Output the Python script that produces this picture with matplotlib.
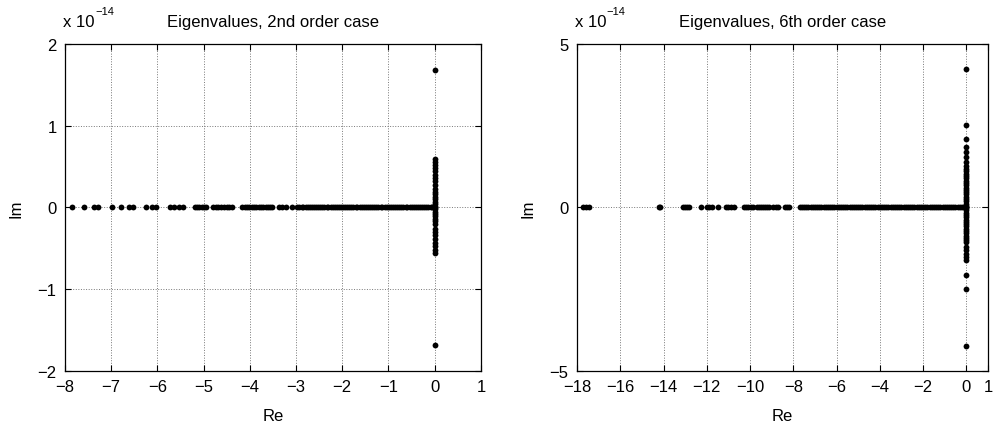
import matplotlib
matplotlib.use("Agg")
import matplotlib.pyplot as plt

plt.rcParams['font.family'] = ['Liberation Sans', 'DejaVu Sans']

# 2nd order case: eigenvalues on the real axis (Im = 0)
re_axis_2 = [-7.84, -7.59, -7.37, -7.29, -6.98, -6.78, -6.62, -6.52, -6.24, -6.12, -6.02,
             -5.72, -5.63, -5.53, -5.45, -5.19, -5.14, -5.09, -5.04, -4.99, -4.94,
             -4.80, -4.74, -4.68, -4.62, -4.56, -4.50, -4.44, -4.38,
             -4.16, -4.11, -4.06, -4.01, -3.96, -3.91, -3.86, -3.81, -3.76, -3.71,
             -3.66, -3.61, -3.56, -3.51, -3.36, -3.30, -3.21, -3.08,
             -2.97, -2.93, -2.88, -2.84, -2.79, -2.75, -2.70, -2.66, -2.61, -2.57,
             -2.52, -2.48, -2.43, -2.39, -2.34, -2.30, -2.25, -2.21, -2.16, -2.12,
             -2.07, -2.03, -1.98, -1.94, -1.89, -1.85, -1.80, -1.76, -1.71, -1.67,
             -1.62, -1.58, -1.53, -1.49, -1.44, -1.40, -1.35, -1.31, -1.26, -1.22,
             -1.17, -1.13, -1.08, -1.04, -0.99, -0.95, -0.90, -0.86, -0.81, -0.77,
             -0.72, -0.68, -0.63, -0.59, -0.54, -0.50, -0.45, -0.41, -0.36, -0.32,
             -0.27, -0.23, -0.18, -0.14, -0.09, -0.05, 0.0]
# 2nd order case: eigenvalues on the imaginary axis (Re = 0), in units of 1e-14
im_axis_2 = [1.68, 0.59, 0.56, 0.52, 0.48, 0.44, 0.40, 0.36, 0.32, 0.27,
             0.22, 0.19, 0.16, 0.13, 0.10, 0.07, 0.04, 0.01, -0.02, -0.05, -0.08,
             -0.11, -0.14, -0.17, -0.20, -0.26, -0.30, -0.34, -0.38, -0.43,
             -0.47, -0.52, -0.56, -1.68]

# 6th order case
re_axis_6 = [-17.7, -17.6, -17.45, -14.2, -14.15, -13.1, -13.0, -12.9, -12.8, -12.25,
             -12.0, -11.9, -11.75, -11.47, -11.1, -11.0, -10.9, -10.75,
             -10.3, -10.2, -10.1, -9.95, -9.85, -9.7, -9.6, -9.5, -9.4, -9.3, -9.2,
             -9.1, -8.95, -8.8, -8.7, -8.4, -8.3, -8.2,
             -7.7, -7.6, -7.5, -7.4, -7.3, -7.2, -7.1, -7.0, -6.9, -6.8, -6.7, -6.6,
             -6.5, -6.4, -6.3, -6.2, -6.1, -6.0, -5.9, -5.8, -5.7, -5.6, -5.5, -5.4,
             -5.3, -5.2, -5.1, -5.0, -4.9, -4.8, -4.7, -4.6, -4.5, -4.4, -4.3, -4.2,
             -4.1, -4.0, -3.9, -3.8, -3.7, -3.6, -3.5, -3.4, -3.3, -3.2, -3.1, -3.0,
             -2.9, -2.8, -2.7, -2.6, -2.5, -2.4, -2.3, -2.2, -2.1, -2.0, -1.9, -1.8,
             -1.7, -1.6, -1.5, -1.4, -1.3, -1.2, -1.1, -1.0, -0.9, -0.8, -0.7, -0.6,
             -0.5, -0.4, -0.3, -0.2, -0.1, 0.0]
im_axis_6 = [4.24, 2.52, 2.08, 1.85, 1.70, 1.55, 1.40, 1.28, 1.18,
             1.10, 1.03, 0.96, 0.89, 0.82, 0.75, 0.68, 0.61, 0.54, 0.47, 0.40,
             0.33, 0.26, 0.19, 0.12, 0.05, -0.02, -0.09, -0.16, -0.23, -0.30,
             -0.37, -0.44, -0.51, -0.58, -0.65, -0.72, -0.79, -0.86, -0.93, -1.00,
             -1.05, -1.20, -1.30, -1.42, -1.52, -1.62, -2.08, -2.50, -4.24]

panels = [
    dict(re=re_axis_2, im=im_axis_2, title='Eigenvalues, 2nd order case',
         xlim=(-8, 1), xticks=[-8, -7, -6, -5, -4, -3, -2, -1, 0, 1],
         ylim=(-2, 2), yticks=[-2, -1, 0, 1, 2], left=0.0653, width=0.418),
    dict(re=re_axis_6, im=im_axis_6, title='Eigenvalues, 6th order case',
         xlim=(-18, 1), xticks=[-18, -16, -14, -12, -10, -8, -6, -4, -2, 0, 1],
         ylim=(-5, 5), yticks=[-5, 0, 5], left=0.5799, width=0.413),
]

fig = plt.figure(figsize=(9.95, 4.31), dpi=100)

for p in panels:
    ax = fig.add_axes([p['left'], 0.137, p['width'], 0.7587])
    ax.plot(p['re'], [0] * len(p['re']), 'o', color='black', markersize=4.2,
            markeredgewidth=0)
    ax.plot([0] * len(p['im']), p['im'], 'o', color='black', markersize=4.2,
            markeredgewidth=0)
    ax.set_xlim(*p['xlim'])
    ax.set_ylim(*p['ylim'])
    ax.set_xticks(p['xticks'])
    ax.set_yticks(p['yticks'])
    ax.grid(True, linestyle=':', color='#777777', linewidth=0.7)
    ax.tick_params(direction='in', top=True, right=True, length=4,
                   labelsize=12, width=0.8, pad=6)
    for s in ax.spines.values():
        s.set_linewidth(0.9)
    ax.set_xlabel('Re', fontsize=12, labelpad=10)
    ax.set_ylabel('Im', fontsize=12, labelpad=10)
    ax.set_title(p['title'], fontsize=12, pad=13)
    ax.text(-0.005, 1.045, 'x 10', transform=ax.transAxes, fontsize=12,
            ha='left', va='bottom')
    ax.text(0.072, 1.085, '\u221214', transform=ax.transAxes, fontsize=8,
            ha='left', va='bottom')

fig.savefig('out.png', dpi=100)
